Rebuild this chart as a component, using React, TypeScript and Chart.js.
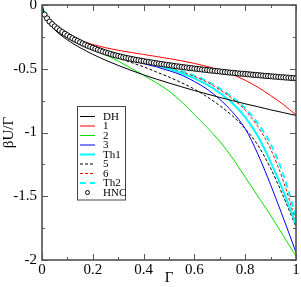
import React, { useEffect, useRef } from "react";
import { Chart, registerables } from "chart.js";

Chart.register(...registerables);

// ---- data ----
const gamma = [0, 0.01, 0.02, 0.05, 0.1, 0.15, 0.2, 0.25, 0.3, 0.35, 0.4, 0.45, 0.5, 0.55, 0.6, 0.65, 0.7, 0.75, 0.8, 0.85, 0.9, 0.95, 1.0];
const dhValues = [0, -0.087, -0.122, -0.194, -0.274, -0.335, -0.387, -0.433, -0.474, -0.512, -0.548, -0.581, -0.612, -0.642, -0.671, -0.698, -0.725, -0.75, -0.775, -0.798, -0.822, -0.844, -0.866];
const series1 = [0, -0.08, -0.11, -0.17, -0.235, -0.28, -0.31, -0.335, -0.355, -0.372, -0.388, -0.404, -0.42, -0.438, -0.458, -0.482, -0.51, -0.545, -0.59, -0.645, -0.71, -0.78, -0.862];
const series2 = [0, -0.08, -0.11, -0.17, -0.24, -0.295, -0.345, -0.39, -0.44, -0.495, -0.55, -0.61, -0.675, -0.76, -0.86, -0.96, -1.07, -1.2, -1.35, -1.5, -1.65, -1.81, -1.97];
const series3 = [0, -0.075, -0.105, -0.165, -0.235, -0.29, -0.335, -0.375, -0.405, -0.435, -0.46, -0.485, -0.515, -0.55, -0.6, -0.66, -0.74, -0.84, -0.97, -1.17, -1.41, -1.67, -1.94];
const seriesTh1 = [0, -0.075, -0.105, -0.165, -0.232, -0.285, -0.33, -0.365, -0.395, -0.42, -0.445, -0.47, -0.5, -0.535, -0.575, -0.625, -0.69, -0.77, -0.88, -1.03, -1.23, -1.46, -1.72];
const series5 = [0, -0.075, -0.105, -0.165, -0.235, -0.29, -0.335, -0.38, -0.415, -0.45, -0.485, -0.525, -0.565, -0.61, -0.66, -0.72, -0.79, -0.87, -0.97, -1.1, -1.28, -1.5, -1.74];
const series6 = [0, -0.075, -0.105, -0.165, -0.232, -0.285, -0.33, -0.365, -0.395, -0.42, -0.443, -0.467, -0.495, -0.525, -0.56, -0.605, -0.665, -0.735, -0.825, -0.955, -1.13, -1.38, -1.7];
const seriesTh2 = [0, -0.075, -0.105, -0.165, -0.232, -0.285, -0.33, -0.365, -0.395, -0.42, -0.443, -0.467, -0.493, -0.52, -0.555, -0.598, -0.655, -0.725, -0.81, -0.93, -1.09, -1.33, -1.66];

const hncGamma = [
  0.01, 0.02, 0.03, 0.04, 0.05, 0.06, 0.07, 0.08, 0.09, 0.1,
  0.11, 0.12, 0.13, 0.14, 0.15, 0.16, 0.17, 0.18, 0.19, 0.2,
  0.21, 0.22, 0.23, 0.24, 0.25, 0.26, 0.27, 0.28, 0.29, 0.3,
  0.31, 0.32, 0.33, 0.34, 0.35, 0.36, 0.37, 0.38, 0.39, 0.4,
  0.41, 0.42, 0.43, 0.44, 0.45, 0.46, 0.47, 0.48, 0.49, 0.5,
  0.51, 0.52, 0.53, 0.54, 0.55, 0.56, 0.57, 0.58, 0.59, 0.6,
  0.61, 0.62, 0.63, 0.64, 0.65, 0.66, 0.67, 0.68, 0.69, 0.7,
  0.71, 0.72, 0.73, 0.74, 0.75, 0.76, 0.77, 0.78, 0.79, 0.8,
  0.81, 0.82, 0.83, 0.84, 0.85, 0.86, 0.87, 0.88, 0.89, 0.9,
  0.91, 0.92, 0.93, 0.94, 0.95, 0.96, 0.97, 0.98, 0.99, 1.0,
];
const hncValues = [
  -0.075, -0.105, -0.13, -0.15, -0.168, -0.184, -0.199, -0.213, -0.226, -0.238,
  -0.25, -0.261, -0.272, -0.282, -0.292, -0.302, -0.311, -0.32, -0.328, -0.336,
  -0.344, -0.351, -0.358, -0.365, -0.372, -0.378, -0.384, -0.39, -0.395, -0.4,
  -0.405, -0.41, -0.414, -0.418, -0.422, -0.426, -0.43, -0.433, -0.437, -0.44,
  -0.444, -0.447, -0.45, -0.454, -0.457, -0.46, -0.463, -0.466, -0.469, -0.472,
  -0.475, -0.478, -0.481, -0.483, -0.486, -0.489, -0.491, -0.494, -0.496, -0.499,
  -0.501, -0.503, -0.506, -0.508, -0.51, -0.513, -0.515, -0.517, -0.519, -0.521,
  -0.524, -0.526, -0.528, -0.53, -0.532, -0.534, -0.536, -0.538, -0.539, -0.541,
  -0.543, -0.545, -0.547, -0.549, -0.55, -0.552, -0.554, -0.556, -0.557, -0.559,
  -0.561, -0.562, -0.564, -0.566, -0.567, -0.569, -0.57, -0.572, -0.573, -0.575,
];

const xMajorTicks = [0, 0.2, 0.4, 0.6, 0.8, 1];
const xMinorTicks = [0.1, 0.3, 0.5, 0.7, 0.9];
const yMajorTicks = [-2, -1.5, -1, -0.5, 0];
const yMinorTicks = [-1.75, -1.25, -0.75, -0.25];

const FONT = "'Liberation Serif', 'Times New Roman', serif";

const pairs = (xs: number[], ys: number[]) => xs.map((x, i) => ({ x, y: ys[i] }));

const framePlugin = {
  id: "frameTicks",
  afterDatasetsDraw(chart: any) {
    const { ctx, chartArea, scales } = chart;
    const { left, right, top, bottom } = chartArea;
    const xs = scales.x;
    const ys = scales.y;
    ctx.save();
    ctx.strokeStyle = "#444";
    ctx.lineWidth = 1.5;
    ctx.strokeRect(left, top, right - left, bottom - top);
    ctx.lineWidth = 1;
    ctx.strokeStyle = "#555";
    const drawX = (vals: number[], len: number) => {
      vals.forEach((v) => {
        const px = Math.round(xs.getPixelForValue(v)) + 0.5;
        ctx.beginPath();
        ctx.moveTo(px, bottom);
        ctx.lineTo(px, bottom - len);
        ctx.moveTo(px, top);
        ctx.lineTo(px, top + len);
        ctx.stroke();
      });
    };
    const drawY = (vals: number[], len: number) => {
      vals.forEach((v) => {
        const py = Math.round(ys.getPixelForValue(v)) + 0.5;
        ctx.beginPath();
        ctx.moveTo(left, py);
        ctx.lineTo(left + len, py);
        ctx.moveTo(right, py);
        ctx.lineTo(right - len, py);
        ctx.stroke();
      });
    };
    drawX(xMajorTicks, 6);
    drawX(xMinorTicks, 3);
    drawY(yMajorTicks, 6);
    drawY(yMinorTicks, 3);
    ctx.restore();
  },
};

const legendPlugin = {
  id: "boxLegend",
  afterDraw(chart: any) {
    const { ctx } = chart;
    const bx = 77.5, by = 106.5, bw = 48, bh = 93.5;
    ctx.save();
    ctx.fillStyle = "#fff";
    ctx.fillRect(bx, by, bw, bh);
    ctx.strokeStyle = "#444";
    ctx.lineWidth = 1;
    ctx.strokeRect(bx, by, bw, bh);
    ctx.font = `11px ${FONT}`;
    ctx.textBaseline = "middle";
    ctx.textAlign = "left";
    chart.data.datasets.forEach((ds: any, i: number) => {
      const y = 116.5 + i * 9.5;
      if (ds.showLine === false) {
        ctx.beginPath();
        ctx.arc(87.5, y, 2, 0, Math.PI * 2);
        ctx.fillStyle = "#fff";
        ctx.fill();
        ctx.strokeStyle = "#000";
        ctx.lineWidth = 1;
        ctx.stroke();
      } else {
        ctx.beginPath();
        ctx.setLineDash(ds.borderDash || []);
        ctx.strokeStyle = ds.borderColor;
        ctx.lineWidth = ds.borderWidth;
        ctx.moveTo(80, y);
        ctx.lineTo(95, y);
        ctx.stroke();
        ctx.setLineDash([]);
      }
      ctx.fillStyle = "#000";
      ctx.fillText(ds.label, 103, y + 0.5);
    });
    ctx.restore();
  },
};

export default function App() {
  const canvasRef = useRef<HTMLCanvasElement | null>(null);

  useEffect(() => {
    document.body.style.margin = "0";
    const canvas = canvasRef.current;
    if (!canvas) return;

    const line = (label: string, data: number[], color: string, width: number, dash: number[] = []) => ({
      label,
      data: pairs(gamma, data),
      borderColor: color,
      backgroundColor: color,
      borderWidth: width,
      borderDash: dash,
      pointRadius: 0,
      fill: false,
      cubicInterpolationMode: "monotone" as const,
      order: 1,
    });

    const chart = new Chart(canvas, {
      type: "line",
      data: {
        datasets: [
          line("DH", dhValues, "#000000", 1),
          line("1", series1, "#ff0000", 1),
          line("2", series2, "#00e000", 1),
          line("3", series3, "#0000ff", 1),
          line("Th1", seriesTh1, "#00ffff", 2),
          line("5", series5, "#000000", 1, [3, 2]),
          line("6", series6, "#ff0000", 1, [3, 2]),
          line("Th2", seriesTh2, "#00ffff", 2, [6, 4]),
          {
            label: "HNC",
            data: pairs(hncGamma, hncValues),
            showLine: false,
            pointStyle: "circle",
            pointRadius: 2.6,
            pointBorderWidth: 1,
            pointBorderColor: "#000",
            pointBackgroundColor: "#fff",
            borderColor: "#000",
            backgroundColor: "#fff",
            order: 0,
          },
        ],
      },
      options: {
        animation: false,
        responsive: false,
        maintainAspectRatio: false,
        events: [],
        layout: { padding: { top: 5, right: 4, left: 0, bottom: 0 } },
        plugins: {
          legend: { display: false },
          tooltip: { enabled: false },
        },
        scales: {
          x: {
            type: "linear",
            min: 0,
            max: 1,
            grid: { display: false, drawTicks: false },
            border: { display: false },
            afterBuildTicks: (s: any) => {
              s.ticks = xMajorTicks.map((v) => ({ value: v }));
            },
            afterFit: (s: any) => {
              s.height = 27;
              s.paddingLeft = 0;
              s.paddingRight = 0;
            },
            ticks: {
              padding: 1,
              color: "#000",
              maxRotation: 0,
              autoSkip: false,
              font: { family: FONT, size: 15 },
              callback: (v: any) => String(v),
            },
            title: {
              display: true,
              text: "Γ",
              color: "#000",
              padding: 0,
              font: { family: FONT, size: 15 },
            },
          },
          y: {
            type: "linear",
            min: -2,
            max: 0,
            grid: { display: false, drawTicks: false },
            border: { display: false },
            afterBuildTicks: (s: any) => {
              s.ticks = yMajorTicks.map((v) => ({ value: v }));
            },
            afterFit: (s: any) => {
              s.width = 42;
              s.paddingTop = 0;
              s.paddingBottom = 0;
            },
            ticks: {
              padding: 5,
              color: "#000",
              autoSkip: false,
              font: { family: FONT, size: 15 },
              callback: (v: any) => String(v),
            },
            title: {
              display: true,
              text: "βU/Γ",
              color: "#000",
              padding: 0,
              font: { family: FONT, size: 15 },
            },
          },
        },
      },
      plugins: [framePlugin, legendPlugin],
    } as any);

    return () => chart.destroy();
  }, []);

  return (
    <div style={{ width: 301, height: 287, background: "#fff" }}>
      <canvas ref={canvasRef} width={301} height={287} style={{ display: "block" }} />
    </div>
  );
}
